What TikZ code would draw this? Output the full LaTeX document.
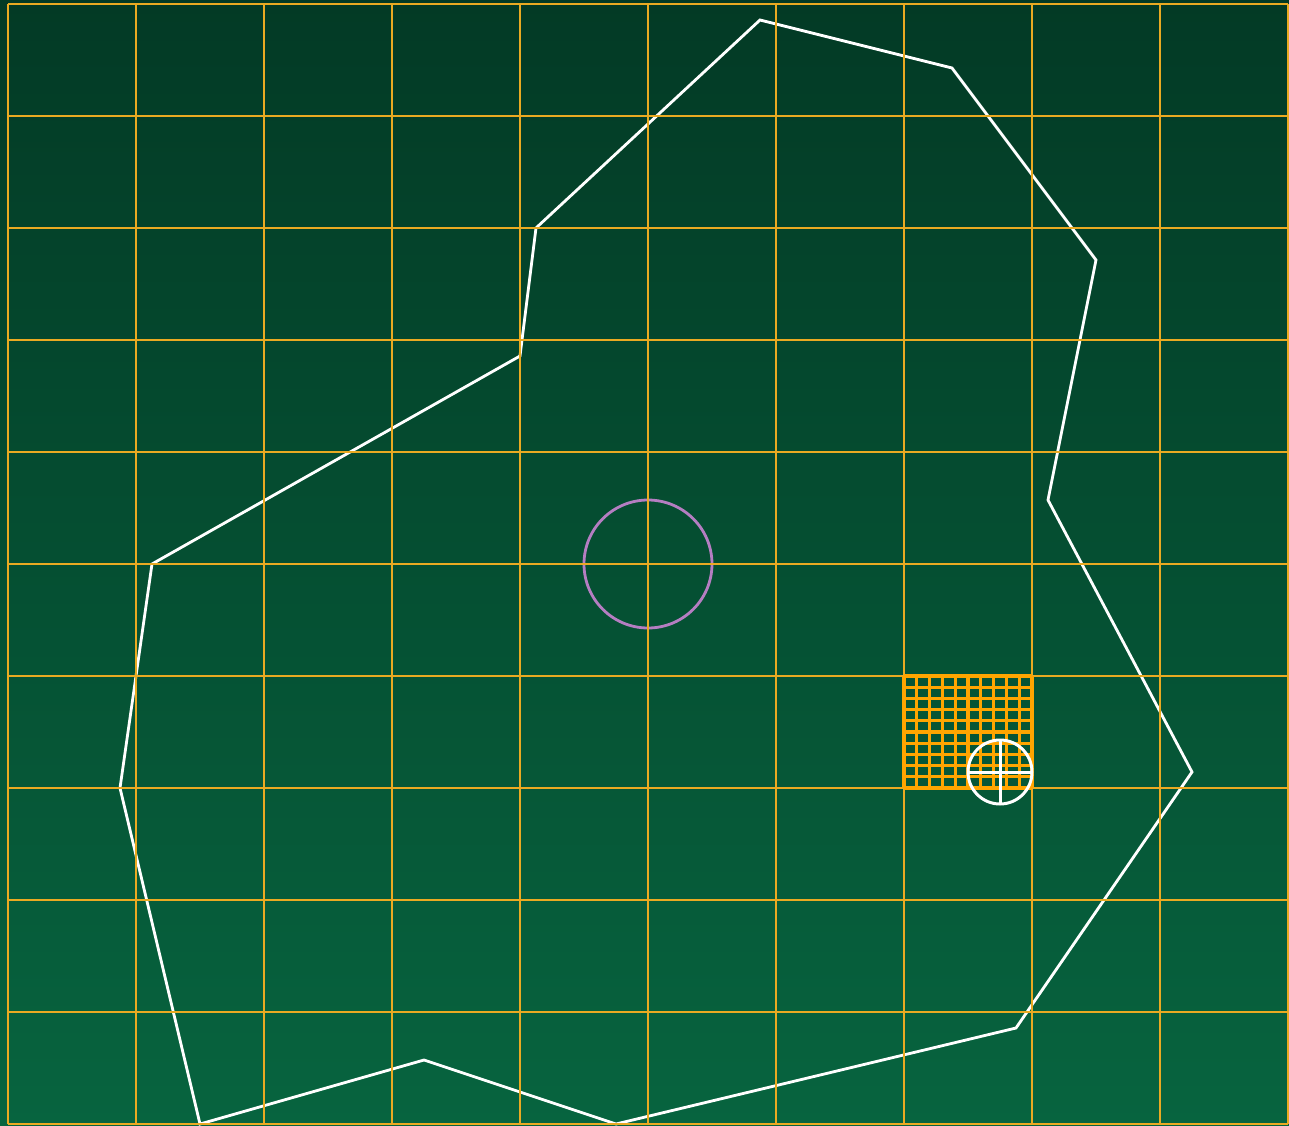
\documentclass[tikz,border=0pt]{standalone}
\usepackage{xcolor}
\usepackage{tikz}
\usetikzlibrary{calc}
\definecolor{fieldtop}{HTML}{033A25}
\definecolor{fieldbottom}{HTML}{07643F}
\definecolor{gridgold}{HTML}{EAAA22}
\definecolor{finegold}{HTML}{FFA500}
\definecolor{ringviolet}{HTML}{B57EC2}
\tikzstyle{gridline} = [line width=1.65pt, color=gridgold]
\tikzstyle{fineline} = [line width=1.9pt, color=finegold]
\tikzstyle{outline} = [line width=1.6pt, color=white, line join=miter]
\tikzstyle{ring} = [line width=1.6pt, color=ringviolet]
\tikzstyle{target} = [line width=1.7pt, color=white]

\begin{document}
\begin{tikzpicture}[x=0.02cm, y=-0.02cm]
    % background
    \shade[top color=fieldtop, bottom color=fieldbottom] (0,0) rectangle (1289,1126);
    \useasboundingbox (0,0) rectangle (1289,1126);

    % boundary
    \draw[outline] (760,20) -- (952,68) -- (1096,260) -- (1048,500) -- (1192,772)
        -- (1016,1028) -- (616,1124) -- (424,1060) -- (200,1124) -- (120,788)
        -- (152,564) -- (520,356) -- (536,228) -- cycle;

    % centre ring
    \coordinate (centre) at (648,564);
    \draw[ring] (centre) circle [radius=64];

    % main grid
    \foreach \i in {0,...,10} {
        \draw[gridline] ({8+128*\i},4) -- ({8+128*\i},1124);
        \draw[gridline] (8,{4+112*\i}) -- (1288,{4+112*\i});
    }

    % refined cell
    \foreach \k in {0,...,10} {
        \draw[fineline] ({904+12.8*\k},676) -- ({904+12.8*\k},788);
        \draw[fineline] (904,{676+11.2*\k}) -- (1032,{676+11.2*\k});
    }

    % probe
    \coordinate (probe) at (1000,772);
    \draw[target] (probe) circle [radius=32];
    \draw[target] ($(probe)+(-32,0)$) -- ($(probe)+(32,0)$);
    \draw[target] ($(probe)+(0,-32)$) -- ($(probe)+(0,32)$);
\end{tikzpicture}
\end{document}
